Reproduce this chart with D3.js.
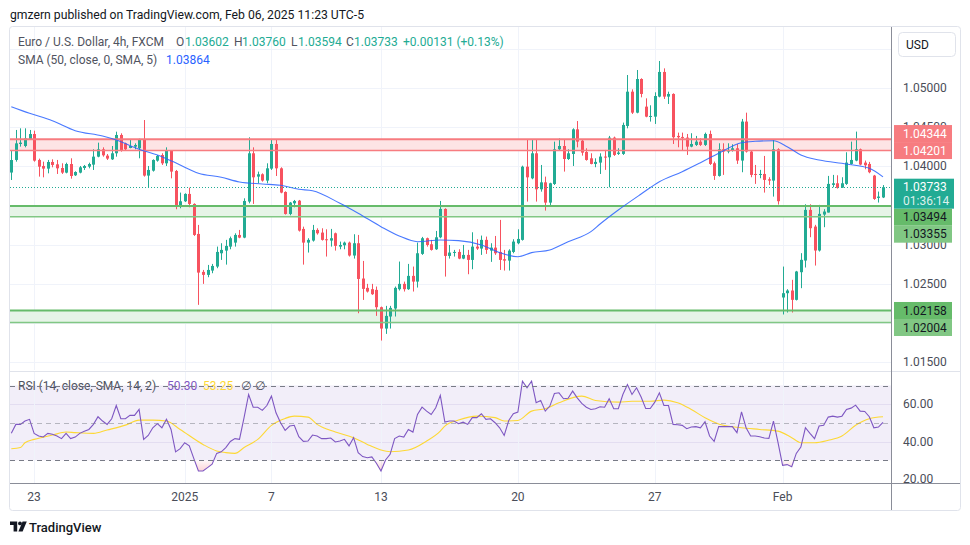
<!DOCTYPE html>
<html><head><meta charset="utf-8">
<script src="https://cdn.jsdelivr.net/npm/d3@7"></script>
<style>body{margin:0;background:#fff;} svg{display:block;font-family:Roboto,"DejaVu Sans",sans-serif;}</style>
</head><body><svg id="c" width="970" height="545"></svg>
<script>
// ---------- DATA ----------
const opens=[1.03920,1.04081,1.04285,1.04259,1.04349,1.04412,1.04081,1.04004,1.03970,1.04055,
1.04025,1.03978,1.03919,1.04029,1.03885,1.03919,1.03978,1.03995,1.04021,1.04123,
1.04217,1.04136,1.04089,1.04166,1.04400,1.04293,1.04234,1.04251,1.04230,1.04349,
1.03881,1.03944,1.04072,1.04144,1.04038,1.04200,1.03940,1.03485,1.03553,1.03647,
1.03519,1.03136,1.02651,1.02613,1.02668,1.02719,1.02889,1.02923,1.02974,1.03025,
1.03123,1.03089,1.03549,1.04166,1.03868,1.03898,1.03817,1.03970,1.04285,1.03974,
1.03672,1.03391,1.03527,1.03561,1.03200,1.03025,1.03051,1.03187,1.03153,1.03068,
1.03051,1.03144,1.02974,1.02991,1.03025,1.02860,1.03017,1.02566,1.02447,1.02430,
1.02421,1.02200,1.01927,1.02081,1.02183,1.02430,1.02498,1.02430,1.02600,1.02527,
1.02881,1.03081,1.03004,1.02940,1.03093,1.03455,1.02855,1.02898,1.02906,1.02821,
1.02868,1.02804,1.02974,1.02949,1.03060,1.02923,1.02961,1.02906,1.02813,1.02795,
1.02906,1.03017,1.03060,1.03995,1.03846,1.04166,1.03706,1.03795,1.03536,1.03774,
1.04217,1.04259,1.04093,1.04157,1.04472,1.04327,1.04183,1.04102,1.04030,1.04047,
1.04124,1.04115,1.04366,1.04158,1.04158,1.04515,1.04953,1.04685,1.05115,1.04762,
1.04634,1.04634,1.04890,1.05205,1.04890,1.04924,1.04388,1.04375,1.04366,1.04251,
1.04273,1.04315,1.04273,1.04413,1.04039,1.03877,1.04217,1.04188,1.04200,1.04230,
1.04073,1.04571,1.04188,1.03902,1.03890,1.03902,1.03834,1.03817,1.04217,1.02324,
1.02379,1.02413,1.02294,1.02647,1.02796,1.03443,1.03230,1.02924,1.03383,1.03409,
1.03762,1.03783,1.03728,1.03775,1.04030,1.04073,1.04217,1.04047,1.04030,1.03881,
1.03596,1.03602];
const highs=[1.04208,1.04464,1.04485,1.04485,1.04464,1.04455,1.04098,1.04059,1.04081,1.04089,
1.04081,1.04038,1.04046,1.04102,1.03936,1.04004,1.04017,1.04046,1.04217,1.04302,
1.04242,1.04157,1.04259,1.04442,1.04421,1.04302,1.04344,1.04293,1.04353,1.04591,
1.04004,1.04089,1.04144,1.04166,1.04242,1.04208,1.03953,1.03664,1.03655,1.03727,
1.03527,1.03251,1.02676,1.02740,1.02753,1.02974,1.03017,1.03060,1.03102,1.03144,
1.03187,1.03591,1.04370,1.04242,1.03932,1.03910,1.04038,1.04344,1.04336,1.03987,
1.03680,1.03544,1.03570,1.03570,1.03229,1.03081,1.03251,1.03208,1.03208,1.03195,
1.03200,1.03153,1.03038,1.03038,1.03038,1.03132,1.03123,1.02791,1.02498,1.02498,
1.02464,1.02208,1.02217,1.02217,1.02464,1.02783,1.02527,1.02753,1.02719,1.03025,
1.03098,1.03089,1.03060,1.03174,1.03557,1.03464,1.02995,1.02932,1.02940,1.02995,
1.02932,1.03157,1.03068,1.03115,1.03102,1.03017,1.03110,1.03315,1.02932,1.02940,
1.03068,1.03195,1.04008,1.04336,1.04344,1.04344,1.04017,1.03868,1.03790,1.04315,
1.04357,1.04344,1.04217,1.04485,1.04578,1.04336,1.04230,1.04166,1.04102,1.04166,
1.04209,1.04388,1.04379,1.04230,1.04558,1.05166,1.04983,1.05230,1.05124,1.04868,
1.04779,1.04945,1.05345,1.05251,1.04953,1.04932,1.04430,1.04430,1.04413,1.04422,
1.04388,1.04358,1.04430,1.04456,1.04060,1.04294,1.04294,1.04294,1.04281,1.04285,
1.04605,1.04685,1.04200,1.04017,1.03954,1.04132,1.03860,1.04345,1.04230,1.02719,
1.02430,1.02550,1.02664,1.02890,1.03515,1.03515,1.03252,1.03507,1.03452,1.03877,
1.03890,1.03885,1.03860,1.04179,1.04315,1.04443,1.04226,1.04073,1.04056,1.03890,
1.03677,1.03760];
const lows=[1.03825,1.04059,1.04251,1.04242,1.04336,1.04059,1.03868,1.03859,1.03910,1.03987,
1.03902,1.03902,1.03910,1.03842,1.03876,1.03910,1.03953,1.03974,1.03953,1.04115,
1.04123,1.04081,1.04081,1.04123,1.04187,1.04208,1.04230,1.04217,1.04102,1.03868,
1.03727,1.03932,1.04059,1.04017,1.04004,1.03846,1.03451,1.03464,1.03544,1.03476,
1.03110,1.02230,1.02498,1.02583,1.02634,1.02698,1.02804,1.02744,1.02940,1.02974,
1.03081,1.03081,1.03527,1.03519,1.03783,1.03804,1.03783,1.03953,1.03876,1.03655,
1.03383,1.03374,1.03476,1.03166,1.02744,1.02898,1.03038,1.03127,1.03051,1.02847,
1.02974,1.02923,1.02940,1.02940,1.02847,1.02821,1.02123,1.02293,1.02387,1.02357,
1.02089,1.01774,1.01859,1.01927,1.02081,1.02413,1.02400,1.02421,1.02400,1.02451,
1.02868,1.02974,1.02923,1.02932,1.03081,1.02591,1.02821,1.02847,1.02813,1.02813,
1.02621,1.02685,1.02932,1.02868,1.02881,1.02779,1.02868,1.02676,1.02668,1.02668,
1.02889,1.03004,1.03051,1.03549,1.03834,1.03549,1.03676,1.03434,1.03500,1.03761,
1.04200,1.03932,1.04081,1.04004,1.04242,1.04136,1.04072,1.04025,1.03988,1.03902,
1.03954,1.03732,1.04132,1.04145,1.04145,1.04485,1.04668,1.04677,1.04881,1.04626,
1.04571,1.04541,1.04881,1.04860,1.04796,1.04285,1.04243,1.04200,1.04145,1.04243,
1.04260,1.04260,1.04260,1.04017,1.03826,1.03868,1.03890,1.04166,1.04188,1.04030,
1.03924,1.04175,1.03860,1.03775,1.03847,1.03664,1.03762,1.03613,1.03511,1.02107,
1.02132,1.02132,1.02286,1.02443,1.02707,1.03094,1.02732,1.02911,1.03222,1.03409,
1.03732,1.03715,1.03724,1.03762,1.04022,1.04064,1.04013,1.03962,1.03911,1.03571,
1.03537,1.03594];
const closes=[1.04080,1.04293,1.04302,1.04357,1.04412,1.04072,1.03995,1.03970,1.04055,1.04017,
1.03974,1.03919,1.04029,1.03876,1.03927,1.03987,1.04004,1.04029,1.04123,1.04217,
1.04140,1.04098,1.04166,1.04400,1.04208,1.04217,1.04259,1.04272,1.04349,1.03881,
1.03953,1.04081,1.04132,1.04038,1.04200,1.03932,1.03485,1.03553,1.03647,1.03519,
1.03123,1.02642,1.02613,1.02676,1.02727,1.02906,1.02932,1.02983,1.03081,1.03123,
1.03089,1.03557,1.04166,1.03859,1.03898,1.03817,1.03974,1.04285,1.03974,1.03664,
1.03391,1.03536,1.03557,1.03178,1.03025,1.03060,1.03187,1.03144,1.03060,1.03060,
1.03081,1.02983,1.02995,1.03025,1.02860,1.03017,1.02561,1.02434,1.02400,1.02366,
1.02200,1.01927,1.02089,1.02191,1.02447,1.02498,1.02430,1.02600,1.02527,1.02889,
1.03081,1.02995,1.02932,1.03093,1.03455,1.02855,1.02898,1.02906,1.02821,1.02868,
1.02804,1.02974,1.02949,1.03060,1.02932,1.02961,1.02889,1.02804,1.02795,1.02923,
1.03038,1.03072,1.03995,1.03859,1.04166,1.03706,1.03795,1.03536,1.03783,1.04217,
1.04259,1.04093,1.04166,1.04472,1.04315,1.04174,1.04081,1.04030,1.04056,1.04124,
1.04111,1.04366,1.04145,1.04175,1.04528,1.04953,1.04685,1.05115,1.04924,1.04634,
1.04643,1.04898,1.05205,1.04890,1.04924,1.04371,1.04371,1.04366,1.04251,1.04285,
1.04315,1.04273,1.04413,1.04030,1.03877,1.04217,1.04188,1.04209,1.04230,1.04073,
1.04571,1.04188,1.03890,1.03890,1.03902,1.03826,1.03817,1.04217,1.03554,1.02379,
1.02413,1.02294,1.02656,1.02805,1.03443,1.03209,1.02924,1.03392,1.03422,1.03775,
1.03783,1.03724,1.03783,1.04047,1.04081,1.04217,1.04022,1.04013,1.03924,1.03583,
1.03613,1.03733];

// SMA(50) read at these bars
const smaBars=[0,4,9,14,20,23,28,33,37,41,46,50,55,59,63,66,72,76,81,85,89,94,98,103,107,111,114,118,122,127,129,133,138,142,147,151,155,160,163,167,170,173,177,183,188,191];
const smaValues=[1.04761,1.04677,1.04582,1.04455,1.04387,1.04336,1.04217,1.04123,1.04017,1.03911,1.03860,1.03800,1.03774,1.03757,1.03706,1.03688,1.03527,1.03400,1.03229,1.03110,1.03037,1.03059,1.03050,1.02995,1.02897,1.02845,1.02897,1.02931,1.03037,1.03165,1.03263,1.03442,1.03646,1.03803,1.03931,1.04046,1.04166,1.04301,1.04319,1.04327,1.04250,1.04144,1.04080,1.04029,1.03974,1.03864];

// RSI(14) per bar
const rsiValues=[44.4,49.2,49.2,51.0,51.9,44.4,43.0,42.5,44.4,43.9,
43.0,41.6,44.4,41.6,42.4,44.4,45.5,46.5,49.2,53.3,
51.0,49.2,52.2,59.3,52.2,52.2,54.0,54.0,57.2,41.2,
43.3,47.4,49.6,47.4,51.9,46.5,34.5,36.2,39.4,37.7,
30.9,24.3,24.3,26.1,27.9,33.7,34.5,36.8,40.1,41.6,
41.2,52.8,65.2,58.4,58.4,56.7,59.3,64.3,55.4,50.1,
46.0,48.3,48.7,42.6,40.1,40.3,43.5,43.0,41.6,41.6,
41.9,39.8,40.3,41.2,37.7,42.1,34.1,32.0,31.4,31.8,
28.4,24.3,30.2,33.2,41.6,43.0,42.4,46.5,45.1,54.5,
58.4,56.3,54.5,58.1,64.7,50.4,51.0,51.0,49.6,50.4,
49.2,52.8,52.8,54.9,51.9,52.2,50.1,47.4,43.3,51.3,
54.9,55.8,72.3,68.8,72.3,60.8,62.0,56.3,59.0,65.7,
66.1,62.9,63.2,67.0,63.4,60.4,58.4,57.2,57.6,58.6,
58.4,62.9,57.6,57.6,65.2,70.5,65.2,68.8,63.8,57.7,
57.7,61.1,66.1,59.3,59.3,49.2,49.0,48.7,46.9,47.8,
48.0,47.4,50.6,43.0,40.1,48.0,48.0,48.0,48.0,44.8,
55.9,47.4,43.0,43.0,42.6,41.9,41.7,51.0,39.4,27.3,
27.7,26.6,33.7,37.1,47.4,44.4,41.6,48.3,48.7,53.1,
53.6,53.1,53.6,57.2,57.9,59.5,56.3,56.1,53.3,47.4,
47.8,50.3];
// RSI-based MA read at these bars
const maBars=[0,2,3,5,7,9,12,14,18,21,25,28,31,34,37,42,45,47,49,51,54,57,60,62,65,67,71,75,78,81,83,87,91,94,95,98,102,106,108,111,114,117,120,125,128,133,136,140,143,146,149,152,156,160,164,168,171,173,176,179,182,185,188,191];
const maValues=[36.2,36.8,39.4,41.2,42.4,43.5,45.1,44.8,44.4,46.2,48.8,51.5,51.5,51.0,46.5,38.5,35.0,34.1,33.7,36.8,41.2,48.7,52.4,53.6,53.1,49.2,45.1,42.1,38.5,35.5,34.6,35.5,40.3,45.6,48.3,51.5,53.6,52.8,51.0,51.3,56.3,57.6,60.8,64.3,62.0,61.1,61.6,61.6,62.2,60.8,57.2,52.8,48.7,47.4,46.5,45.6,42.1,39.4,39.4,40.7,43.0,48.7,52.2,53.25];

// Horizontal zones
const zoneTops=[1.04344,1.03494,1.02158];
const zoneBottoms=[1.04201,1.03355,1.02004];
const zoneKinds=["red","green","green"];
const lastPrice=1.03733;
const countdown="01:36:14";
const legendChange="+0.00131 (+0.13%)";
const priceTicks=[1.015,1.020,1.025,1.030,1.035,1.040,1.045,1.050];
const gridPrices=[1.015,1.020,1.025,1.030,1.035,1.040,1.045,1.050,1.055];
const rsiTicks=[60,40,20];
const timeBars=[5,38,57,81,111,141,169];
const timeLabels=["23","2025","7","13","20","27","Feb"];

// ---------- DRAW ----------
const UP="#22ab94", DN="#f7525f";
const svg=d3.select("#c");
const PL=10, PR=891, PT=27, PB=370, RT=372, RB=483;
const x=d3.scaleLinear().domain([0,191]).range([11.3,883]);
const y=d3.scaleLinear().domain([1.015,1.05]).range([362,88]);
const yr=d3.scaleLinear().domain([20,70]).range([479,385.5]);
const fmt=d3.format(".5f");

svg.append("rect").attr("width",970).attr("height",545).attr("fill","#fff");
const defs=svg.append("defs");
defs.append("clipPath").attr("id","cp").append("rect").attr("x",PL).attr("y",PT).attr("width",PR-PL).attr("height",PB-PT);
defs.append("clipPath").attr("id","cr").append("rect").attr("x",PL).attr("y",RT).attr("width",PR-PL).attr("height",RB-RT);
defs.append("clipPath").attr("id","crAxis").append("rect").attr("x",PR).attr("y",RT).attr("width",70).attr("height",RB-RT);
defs.append("clipPath").attr("id","below30").append("rect").attr("x",PL).attr("y",yr(30)).attr("width",PR-PL).attr("height",RB-yr(30));
defs.append("clipPath").attr("id","above70").append("rect").attr("x",PL).attr("y",RT).attr("width",PR-PL).attr("height",yr(70)-RT);
const gr=defs.append("linearGradient").attr("id","gOS").attr("gradientUnits","userSpaceOnUse").attr("x1",0).attr("x2",0).attr("y1",yr(30)).attr("y2",yr(22));
gr.append("stop").attr("offset",0).attr("stop-color","rgba(242,54,69,0.03)");
gr.append("stop").attr("offset",1).attr("stop-color","rgba(242,54,69,0.28)");
const gg=defs.append("linearGradient").attr("id","gOB").attr("gradientUnits","userSpaceOnUse").attr("x1",0).attr("x2",0).attr("y1",yr(70)).attr("y2",yr(75));
gg.append("stop").attr("offset",0).attr("stop-color","rgba(8,153,129,0.03)");
gg.append("stop").attr("offset",1).attr("stop-color","rgba(8,153,129,0.25)");

// frame
svg.append("rect").attr("x",9.5).attr("y",26.5).attr("width",951).attr("height",484).attr("rx",3)
  .attr("fill","none").attr("stroke","#e0e3eb");

// price pane
const pp=svg.append("g").attr("clip-path","url(#cp)");
pp.selectAll(".hg").data(gridPrices).join("line").attr("x1",PL).attr("x2",PR)
  .attr("y1",d=>Math.round(y(d))+0.5).attr("y2",d=>Math.round(y(d))+0.5).attr("stroke","#f0f3fa");
pp.selectAll(".vg").data(timeBars).join("line").attr("y1",PT).attr("y2",PB)
  .attr("x1",d=>Math.round(x(d))+0.5).attr("x2",d=>Math.round(x(d))+0.5).attr("stroke","#f0f3fa");

const zoneCol={red:{fill:"#fde4e5",top:"#f77c80",bot:"#f77c80"},green:{fill:"#e6f4e7",top:"#66bb6a",bot:"#81c784"}};
zoneTops.forEach((t,i)=>{
  const c=zoneCol[zoneKinds[i]];
  pp.append("rect").attr("x",PL).attr("width",PR-PL).attr("y",y(t)).attr("height",y(zoneBottoms[i])-y(t)).attr("fill",c.fill);
});

// candles
const idx=d3.range(opens.length);
const cg=pp.append("g");
cg.selectAll(".w").data(idx).join("line")
  .attr("x1",i=>Math.round(x(i))+0.5).attr("x2",i=>Math.round(x(i))+0.5)
  .attr("y1",i=>y(highs[i])).attr("y2",i=>y(lows[i]))
  .attr("stroke",i=>closes[i]>=opens[i]?UP:DN).attr("stroke-width",1);
cg.selectAll(".b").data(idx).join("rect")
  .attr("x",i=>Math.round(x(i))-1).attr("width",3)
  .attr("y",i=>y(Math.max(opens[i],closes[i])))
  .attr("height",i=>Math.max(1,Math.abs(y(opens[i])-y(closes[i]))))
  .attr("fill",i=>closes[i]>=opens[i]?UP:DN);

// zone border lines
zoneTops.forEach((t,i)=>{
  const c=zoneCol[zoneKinds[i]];
  pp.append("line").attr("x1",PL).attr("x2",PR).attr("y1",y(t)).attr("y2",y(t)).attr("stroke",c.top).attr("stroke-width",2);
  pp.append("line").attr("x1",PL).attr("x2",PR).attr("y1",y(zoneBottoms[i])).attr("y2",y(zoneBottoms[i])).attr("stroke",c.bot).attr("stroke-width",1.6);
});

// SMA
pp.append("path").datum(smaBars.map((b,i)=>[b,smaValues[i]]))
  .attr("d",d3.line().x(d=>x(d[0])).y(d=>y(d[1])).curve(d3.curveMonotoneX))
  .attr("fill","none").attr("stroke","#2962ff").attr("stroke-opacity",0.85).attr("stroke-width",1.1);

// last price dotted line
pp.append("line").attr("x1",PL).attr("x2",PR).attr("y1",Math.round(y(lastPrice))+0.5).attr("y2",Math.round(y(lastPrice))+0.5)
  .attr("stroke",UP).attr("stroke-dasharray","1,2");

// legend
const lg=svg.append("g").attr("font-size",12);
function T(g,xx,yy,s,col){return g.append("text").attr("x",xx).attr("y",yy).attr("fill",col).text(s);}
const GREY="#505360";
T(lg,18,46,"Euro / U.S. Dollar, 4h, FXCM",GREY);
T(lg,176,46,"O",GREY);T(lg,185,46,fmt(opens[191]),UP);
T(lg,234,46,"H",GREY);T(lg,242,46,fmt(highs[191]),UP);
T(lg,291,46,"L",GREY);T(lg,298,46,fmt(lows[191]),UP);
T(lg,346,46,"C",GREY);T(lg,354,46,fmt(closes[191]),UP);
T(lg,403,46,legendChange,UP);
T(lg,18,64,"SMA (50, close, 0, SMA, 5)",GREY);
T(lg,166,64,fmt(smaValues[smaValues.length-1]),"#2962ff");

// RSI pane
const rp=svg.append("g").attr("clip-path","url(#cr)");
rp.append("rect").attr("x",PL).attr("width",PR-PL).attr("y",yr(70)).attr("height",yr(30)-yr(70)).attr("fill","rgba(126,87,194,0.1)");
rp.selectAll(".rg").data([60,40]).join("line").attr("x1",PL).attr("x2",PR)
  .attr("y1",d=>Math.round(yr(d))+0.5).attr("y2",d=>Math.round(yr(d))+0.5).attr("stroke","#e3ddf1");
rp.selectAll(".vg").data(timeBars).join("line").attr("y1",RT).attr("y2",RB)
  .attr("x1",d=>Math.round(x(d))+0.5).attr("x2",d=>Math.round(x(d))+0.5).attr("stroke","#f0f3fa");
rp.append("path").datum(rsiValues).attr("clip-path","url(#below30)")
  .attr("d",d3.area().x((d,i)=>x(i)).y0(yr(30)).y1(d=>yr(d))).attr("fill","url(#gOS)");
rp.append("path").datum(rsiValues).attr("clip-path","url(#above70)")
  .attr("d",d3.area().x((d,i)=>x(i)).y0(yr(70)).y1(d=>yr(d))).attr("fill","url(#gOB)");
rp.append("path").datum(maBars.map((b,i)=>[b,maValues[i]]))
  .attr("d",d3.line().x(d=>x(d[0])).y(d=>yr(d[1])).curve(d3.curveMonotoneX))
  .attr("fill","none").attr("stroke","#fdd835").attr("stroke-width",1.1);
rp.append("path").datum(rsiValues)
  .attr("d",d3.line().x((d,i)=>x(i)).y(d=>yr(d)))
  .attr("fill","none").attr("stroke","#7e57c2").attr("stroke-width",1.1);
// RSI legend (under the dashed line)
const rl=svg.append("g").attr("font-size",12);
T(rl,18,389.5,"RSI (14, close, SMA, 14, 2)",GREY);
T(rl,167,389.5,rsiValues[191].toFixed(2),"#7e57c2");
T(rl,203,389.5,maValues[maValues.length-1].toFixed(2),"#fdd835");
T(rl,241,389.5,"\u2205",GREY);T(rl,255,389.5,"\u2205",GREY);
// dashed bands
[[70,"#787b86"],[50,"rgba(120,123,134,0.5)"],[30,"#787b86"]].forEach(([v,c])=>{
  svg.append("line").attr("x1",PL).attr("x2",PR).attr("y1",Math.round(yr(v))+0.5).attr("y2",Math.round(yr(v))+0.5)
    .attr("stroke",c).attr("stroke-dasharray","5,4");
});

// separators & axes lines
svg.append("line").attr("x1",PL).attr("x2",960).attr("y1",371.5).attr("y2",371.5).attr("stroke","#e0e3eb");
svg.append("line").attr("x1",PL).attr("x2",960).attr("y1",483.5).attr("y2",483.5).attr("stroke","#8a8d98");
svg.append("line").attr("x1",PR+0.5).attr("x2",PR+0.5).attr("y1",27).attr("y2",510).attr("stroke","#8a8d98");

// ---- price labels: placed outward from the last-price label ----
const H=17;
const fixedTop=y(lastPrice)-8.5, fixedBot=fixedTop+30;
let labs=[];
zoneTops.forEach((t,i)=>{
  const k=zoneKinds[i];
  labs.push({v:t,bg:k==="red"?"#f77c80":"#66bb6a",fg:k==="red"?"#fff":"#131722"});
  labs.push({v:zoneBottoms[i],bg:k==="red"?"#f77c80":"#81c784",fg:k==="red"?"#fff":"#131722"});
});
labs.forEach(l=>{l.a=y(l.v); l.top=l.a-H/2;});
const above=labs.filter(l=>l.v>lastPrice).sort((p,q)=>q.a-p.a);
const below=labs.filter(l=>l.v<=lastPrice).sort((p,q)=>p.a-q.a);
let lim=fixedTop;
above.forEach(l=>{ if(l.top+H>lim) l.top=lim-H; lim=l.top; });
lim=fixedBot;
below.forEach(l=>{ if(l.top<lim) l.top=lim; lim=l.top+H; });
const boxes=labs.map(l=>[l.top,l.top+H]).concat([[fixedTop,fixedBot]]);

// price axis ticks (ticks fully hidden behind a label box are not drawn)
const visTicks=priceTicks.filter(v=>{const c=y(v);return !boxes.some(b=>c>b[0]+3&&c<b[1]-3);});
svg.append("g").attr("font-size",12).attr("fill","#4a4d58")
  .selectAll("text").data(visTicks).join("text").attr("x",903).attr("y",d=>y(d)).attr("dy","0.35em").text(d=>fmt(d));
// RSI axis ticks
svg.append("g").attr("clip-path","url(#crAxis)").attr("font-size",12).attr("fill","#4a4d58")
  .selectAll("text").data(rsiTicks).join("text").attr("x",903).attr("y",d=>yr(d)).attr("dy","0.35em").text(d=>d.toFixed(2));

const lb=svg.append("g").attr("font-size",12);
labs.forEach(l=>{
  lb.append("rect").attr("x",894).attr("y",l.top).attr("width",58).attr("height",H).attr("fill",l.bg);
  lb.append("text").attr("x",903).attr("y",l.top+H/2).attr("dy","0.35em").attr("fill",l.fg).text(fmt(l.v));
});
lb.append("rect").attr("x",894).attr("y",fixedTop).attr("width",60).attr("height",fixedBot-fixedTop).attr("fill",UP);
lb.append("text").attr("x",903).attr("y",y(lastPrice)).attr("dy","0.35em").attr("fill","#fff").text(fmt(lastPrice));
lb.append("text").attr("x",903).attr("y",y(lastPrice)+14).attr("dy","0.35em").attr("fill","#fff").attr("fill-opacity",0.85).text(countdown);

// USD box
svg.append("rect").attr("x",898.5).attr("y",32.5).attr("width",57).attr("height",24).attr("rx",4).attr("fill","#fff").attr("stroke","#e0e3eb");
svg.append("text").attr("x",906).attr("y",44.5).attr("dy","0.35em").attr("font-size",12).attr("fill","#131722").text("USD");

// time axis
svg.append("g").attr("font-size",12).attr("fill","#4a4d58").selectAll("text").data(timeBars).join("text")
  .attr("x",d=>x(d)).attr("y",497).attr("dy","0.35em").attr("text-anchor","middle").text((d,i)=>timeLabels[i]);

// header & footer
svg.append("text").attr("x",10).attr("y",19).attr("font-size",12.2).attr("fill","#131722")
  .text("gmzern published on TradingView.com, Feb 06, 2025 11:23 UTC-5");
const logo=svg.append("g").attr("fill","#131722");
logo.append("path").attr("d","M10,521.5 h7.2 v10 h-3.6 v-6.4 h-3.6 z");
logo.append("circle").attr("cx",20).attr("cy",523.4).attr("r",1.9);
logo.append("path").attr("d","M22.6,521.5 h4.2 l-4.2,10 h-4.2 z");
svg.append("text").attr("x",29).attr("y",531.5).attr("font-size",13).attr("font-weight",500).attr("fill","#131722").text("TradingView");
</script></body></html>
